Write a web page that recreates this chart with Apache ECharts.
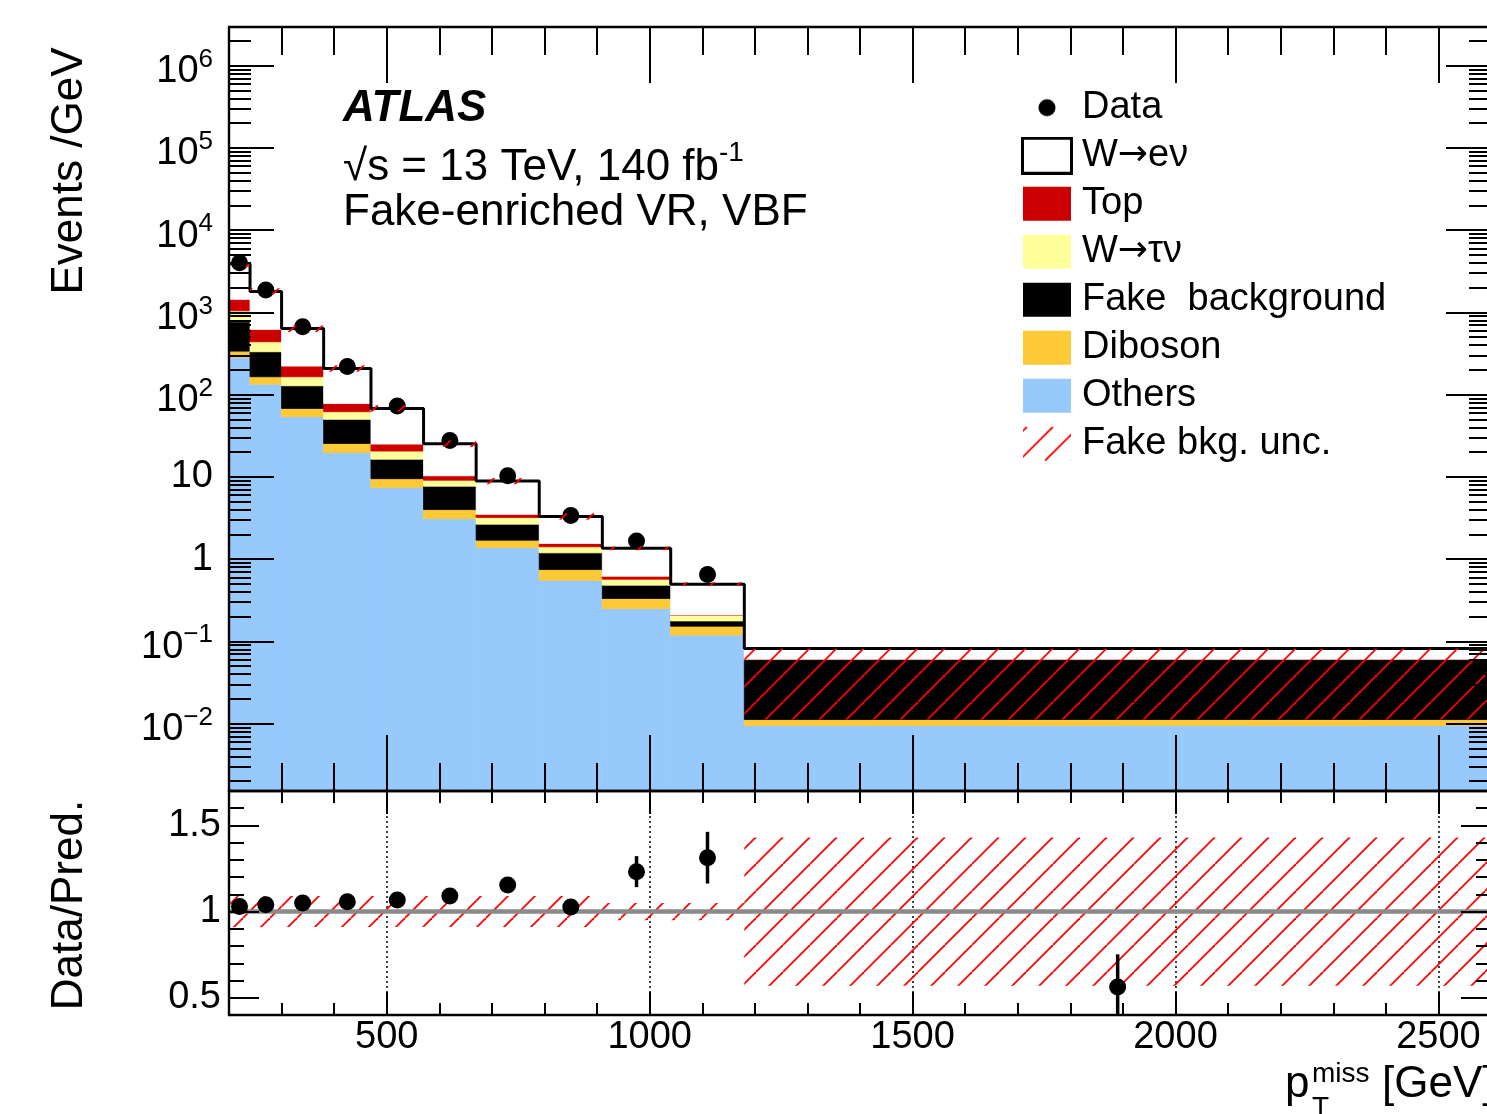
<!DOCTYPE html>
<html>
<head>
<meta charset="utf-8">
<title>Fake-enriched VR, VBF</title>
<script src="https://cdn.jsdelivr.net/npm/echarts@6/dist/echarts.min.js"></script>
<style>
html, body { margin: 0; padding: 0; background: #fff; }
#main { width: 1487px; height: 1114px; }
</style>
</head>
<body>
<div id="main"></div>
<script>
// bin edges, GeV
const edges = [200, 240, 300, 380, 470, 570, 670, 790, 910, 1040, 1180, 2600]

// Events / GeV per process, listed from the bottom of the stack upwards
const others  = [283, 134, 54, 19.8, 7.4, 3.1, 1.38, 0.553, 0.251, 0.119, 0.0095]
const diboson = [55, 31, 14, 5.7, 2.1, 0.9, 0.32, 0.193, 0.081, 0.034, 0.0017]
const fakeBkg = [432, 167, 60, 24.5, 6.9, 3.7, 0.96, 0.444, 0.150, 0.024, 0.0488]
const wTauNu  = [275, 107, 37, 12, 4.2, 1.4, 0.54, 0.22, 0.087, 0.030, 0.0005]
const topQ    = [395, 182, 57, 16, 4.4, 1.2, 0.30, 0.14, 0.051, 0.002, 0.0002]
const wENu    = [2460, 1179, 413, 130, 43, 15, 5.4, 1.75, 0.73, 0.287, 0.021]
const dataVals = [4017, 1873, 667, 220, 72.6, 27.6, 10.3, 3.38, 1.66, 0.65, 0.046]

// fake bkg. uncertainty band, upper panel
const uncLo = [3550, 1640, 578, 189, 61.9, 23.0, 8.1, 3.0, 1.28, 0.471, 0.0112]
const uncHi = [4250, 1960, 692, 227, 74.1, 27.6, 9.7, 3.6, 1.42, 0.521, 0.081]

// ratio panel
const ratio      = [1.03, 1.04, 1.05, 1.057, 1.068, 1.09, 1.155, 1.027, 1.232, 1.313, 0.562]
const ratioErr   = [0.004, 0.006, 0.01, 0.015, 0.02, 0.025, 0.035, 0.045, 0.09, 0.15, 0.19]
const ratioUncLo = [0.91, 0.91, 0.91, 0.91, 0.91, 0.91, 0.91, 0.91, 0.95, 0.95, 0.57]
const ratioUncHi = [1.09, 1.09, 1.09, 1.09, 1.09, 1.09, 1.09, 1.09, 1.05, 1.05, 1.43]

// ticks
const xMajor = [500, 1000, 1500, 2000, 2500]
const xMinor = [300, 400, 600, 700, 800, 900, 1100, 1200, 1300, 1400, 1600, 1700, 1800, 1900, 2100, 2200, 2300, 2400]
const logMajor = [-2, -1, 0, 1, 2, 3, 4, 5, 6]   // exponents of 10
const rMajor = [0.5, 1, 1.5]
const rMinor = [0.6, 0.7, 0.8, 0.9, 1.1, 1.2, 1.3, 1.4, 1.6]

const xRange = [200, 2600]
const lRange = [-2.82, 6.47]
const rRange = [0.4, 1.7]
const yMin = Math.pow(10, lRange[0])
const yMax = Math.pow(10, lRange[1])

const logMinor = []
for (let n = -3; n <= 6; n++) {
  for (let k = 2; k <= 9; k++) {
    const e = n + Math.log10(k)
    if (e > lRange[0] && e < lRange[1]) logMinor.push(e)
  }
}

const font = 'Liberation Sans'
const ink = '#000'
const centers = edges.slice(0, -1).map((e, i) => (e + edges[i + 1]) / 2)

// red 45 degree hatch, ROOT style
const hatch = document.createElement('canvas')
hatch.width = 27
hatch.height = 27
;(function () {
  const g = hatch.getContext('2d')
  g.strokeStyle = '#ff0000'
  g.lineWidth = 1.8
  for (const o of [-27, 0, 27]) {
    g.beginPath(); g.moveTo(o, 27); g.lineTo(o + 27, 0); g.stroke()
  }
})()
const hatchFill = { image: hatch, repeat: 'repeat' }

function icon (draw) {
  const c = document.createElement('canvas')
  c.width = 56
  c.height = 38
  draw(c.getContext('2d'))
  return 'image://' + c.toDataURL()
}
const boxIcon = col => icon(g => { g.fillStyle = col; g.fillRect(2, 2, 48, 34) })

function binRects (name, fill, rows, xi, yi, z) {
  const solid = typeof fill === 'string'
  return {
    type: 'custom', name, xAxisIndex: xi, yAxisIndex: yi, z, silent: true, clip: true,
    itemStyle: { color: solid ? fill : '#ff0000' },
    encode: { x: [0, 1], y: [2, 3] },
    data: rows,
    renderItem (params, api) {
      const a = api.coord([api.value(0), api.value(3)])
      const b = api.coord([api.value(1), api.value(2)])
      return {
        type: 'rect',
        shape: { x: a[0], y: a[1], width: b[0] - a[0], height: b[1] - a[1] },
        style: solid ? { fill, stroke: fill, lineWidth: 0.8 } : { fill }
      }
    }
  }
}

const layers = [
  ['Others', '#97c9fd', others],
  ['Diboson', '#fdc936', diboson],
  ['Fake  background', '#000000', fakeBkg],
  ['W→τν', '#ffff9c', wTauNu],
  ['Top', '#cc0000', topQ],
  ['W→eν', '#ffffff', wENu]
]
const running = others.map(() => 0)
const stackSeries = layers.map(([name, color, vals]) => {
  const rows = vals.map((v, i) => {
    const lo = running[i] > 0 ? running[i] : yMin
    running[i] += v
    return [edges[i], edges[i + 1], lo, running[i]]
  })
  return binRects(name, color, rows, 0, 0, 2)
})
const totals = running.slice()

function tickAxis (grid, pos, range, ticks, len, withLine, label) {
  return {
    type: 'value', gridIndex: grid, position: pos, min: range[0], max: range[1], z: 10,
    axisLine: { show: withLine, onZero: false, lineStyle: { color: ink, width: 2.4 } },
    axisTick: { show: true, inside: true, length: len, customValues: ticks, lineStyle: { color: ink, width: 2 } },
    axisLabel: label || { show: false },
    splitLine: { show: false }
  }
}

const logLabel = {
  customValues: logMajor, margin: 16, color: ink, fontFamily: font, fontSize: 38,
  formatter: e => e === 0 ? '1' : e === 1 ? '10' : '{b|10}{s|' + String(e).replace('-', '−') + '}',
  rich: {
    b: { fontFamily: font, fontSize: 38, lineHeight: 38, padding: [12, 0, 0, 0], color: ink },
    s: { fontFamily: font, fontSize: 26, lineHeight: 37, verticalAlign: 'top', color: ink }
  }
}
const ratioLabel = { customValues: rMajor, margin: 8, color: ink, fontFamily: font, fontSize: 38, formatter: v => String(v) }
const xLabel = { customValues: xMajor, margin: 4, color: ink, fontFamily: font, fontSize: 38, lineHeight: 38, formatter: v => String(v) }

const ratioMajorX = tickAxis(1, 'bottom', xRange, xMajor, 23, false, xLabel)
ratioMajorX.z = 1
ratioMajorX.splitLine = { show: true, lineStyle: { color: ink, width: 1.5, type: [2, 3] } }

const xAxis = [
  tickAxis(0, 'bottom', xRange, xMinor, 28, true),
  tickAxis(0, 'bottom', xRange, xMajor, 56, false),
  tickAxis(0, 'top', xRange, xMinor, 28, true),
  tickAxis(0, 'top', xRange, xMajor, 56, false),
  tickAxis(1, 'bottom', xRange, xMinor, 12, true),
  ratioMajorX,
  tickAxis(1, 'top', xRange, xMinor, 12, true),
  tickAxis(1, 'top', xRange, xMajor, 23, false)
]

const yAxis = [
  { type: 'log', gridIndex: 0, min: yMin, max: yMax, show: false },
  tickAxis(0, 'left', lRange, logMajor, 45, true, logLabel),
  tickAxis(0, 'left', lRange, logMinor, 22, false),
  tickAxis(0, 'right', lRange, logMajor, 45, true),
  tickAxis(0, 'right', lRange, logMinor, 22, false),
  tickAxis(1, 'left', rRange, rMajor, 30, true, ratioLabel),
  tickAxis(1, 'left', rRange, rMinor, 15, false),
  tickAxis(1, 'right', rRange, rMajor, 30, true),
  tickAxis(1, 'right', rRange, rMinor, 15, false)
]

const dot = { color: ink, opacity: 1 }

const series = stackSeries.concat([
  {
    type: 'line', step: 'end', xAxisIndex: 0, yAxisIndex: 0, z: 4, silent: true, clip: true,
    symbol: 'none', lineStyle: { color: ink, width: 3 },
    data: edges.map((e, i) => [e, totals[Math.min(i, totals.length - 1)]])
  },
  {
    type: 'scatter', name: 'Data', xAxisIndex: 0, yAxisIndex: 0, z: 5, silent: true,
    symbolSize: 17, itemStyle: dot,
    data: centers.map((c, i) => [c, dataVals[i]])
  },
  binRects('Fake bkg. unc.', hatchFill,
    uncLo.map((v, i) => [edges[i], edges[i + 1], v, uncHi[i]]), 0, 0, 6),

  binRects('Fake bkg. unc.', hatchFill,
    ratioUncLo.map((v, i) => [edges[i], edges[i + 1], v, ratioUncHi[i]]), 4, 5, 2),
  {
    type: 'line', xAxisIndex: 4, yAxisIndex: 5, z: 3, silent: true, data: [],
    markLine: {
      silent: true, symbol: 'none', label: { show: false },
      lineStyle: { color: '#8a8a8a', width: 4.5, type: 'solid' },
      data: [{ yAxis: 1 }]
    }
  },
  {
    type: 'custom', xAxisIndex: 4, yAxisIndex: 5, z: 4, silent: true, clip: true,
    encode: { x: 0, y: [1, 2] },
    data: centers.map((c, i) => [c, ratio[i] - ratioErr[i], ratio[i] + ratioErr[i]]),
    renderItem (params, api) {
      const a = api.coord([api.value(0), api.value(1)])
      const b = api.coord([api.value(0), api.value(2)])
      return { type: 'line', shape: { x1: a[0], y1: a[1], x2: b[0], y2: b[1] }, style: { stroke: ink, lineWidth: 3.5 } }
    }
  },
  {
    type: 'scatter', name: 'Data', xAxisIndex: 4, yAxisIndex: 5, z: 5, silent: true,
    symbolSize: 17, itemStyle: dot,
    data: centers.map((c, i) => [c, ratio[i]])
  }
])

const legendData = [
  { name: 'Data', icon: icon(g => { g.fillStyle = ink; g.beginPath(); g.arc(26, 19, 8.5, 0, 2 * Math.PI); g.fill() }) },
  { name: 'W→eν', icon: icon(g => { g.fillStyle = '#fff'; g.fillRect(2, 2, 48, 34); g.strokeStyle = ink; g.lineWidth = 3; g.strokeRect(1.5, 1.5, 49, 35) }) },
  { name: 'Top', icon: boxIcon('#cc0000') },
  { name: 'W→τν', icon: boxIcon('#ffff9c') },
  { name: 'Fake  background', icon: boxIcon('#000000') },
  { name: 'Diboson', icon: boxIcon('#fdc936') },
  { name: 'Others', icon: boxIcon('#97c9fd') },
  { name: 'Fake bkg. unc.', icon: icon(g => {
    g.save(); g.beginPath(); g.rect(2, 2, 48, 34); g.clip()
    g.strokeStyle = '#ff0000'; g.lineWidth = 1.8
    for (const o of [-28, -2, 24, 50]) { g.beginPath(); g.moveTo(o, 36); g.lineTo(o + 34, 2); g.stroke() }
    g.restore()
  }) }
]

const txt = (x, y, text, size, extra) => ({
  type: 'text', x, y, silent: true,
  style: Object.assign({
    text, fontFamily: font, fontSize: size, fill: ink,
    align: 'left', verticalAlign: 'middle', textAlign: 'left', textVerticalAlign: 'middle'
  }, extra || {})
})

const chart = echarts.init(document.getElementById('main'))
chart.setOption({
  animation: false,
  backgroundColor: '#fff',
  grid: [
    { left: 229, right: -4, top: 27, height: 764, containLabel: false, outerBoundsMode: 'none' },
    { left: 229, right: -4, top: 791, height: 224, containLabel: false, outerBoundsMode: 'none' }
  ],
  legend: {
    orient: 'vertical', left: 1021, top: 88.7, padding: 0,
    itemWidth: 56, itemHeight: 38, itemGap: 10, selectedMode: false,
    formatter: name => name.replace('→', '{a|→}'),
    textStyle: {
      fontFamily: font, fontSize: 38, color: ink, lineHeight: 38,
      rich: { a: { fontFamily: 'DejaVu Sans', fontSize: 36, lineHeight: 38, color: ink } }
    },
    data: legendData
  },
  xAxis,
  yAxis,
  series,
  graphic: [
    txt(343, 109, 'ATLAS', 44, { fontStyle: 'italic', fontWeight: 'bold' }),
    txt(343, 168, '√s = 13 TeV, 140 fb{s|-1}', 44, {
      lineHeight: 58,
      rich: { s: { fontFamily: font, fontSize: 28, lineHeight: 34, verticalAlign: 'top', fill: ink } }
    }),
    txt(343, 213, 'Fake-enriched VR, VBF', 44),
    txt(70, 171, 'Events /GeV', 44, { align: 'center', textAlign: 'center' }),
    txt(70, 905, 'Data/Pred.', 44, { align: 'center', textAlign: 'center' }),
    txt(1285, 1085, 'p', 44),
    txt(1312, 1074, 'miss', 28),
    txt(1312, 1108, 'T', 28),
    txt(1382, 1085, '[GeV]', 44)
  ].map((g, i) => (i === 3 || i === 4) ? Object.assign(g, { rotation: Math.PI / 2 }) : g)
})
</script>
</body>
</html>
